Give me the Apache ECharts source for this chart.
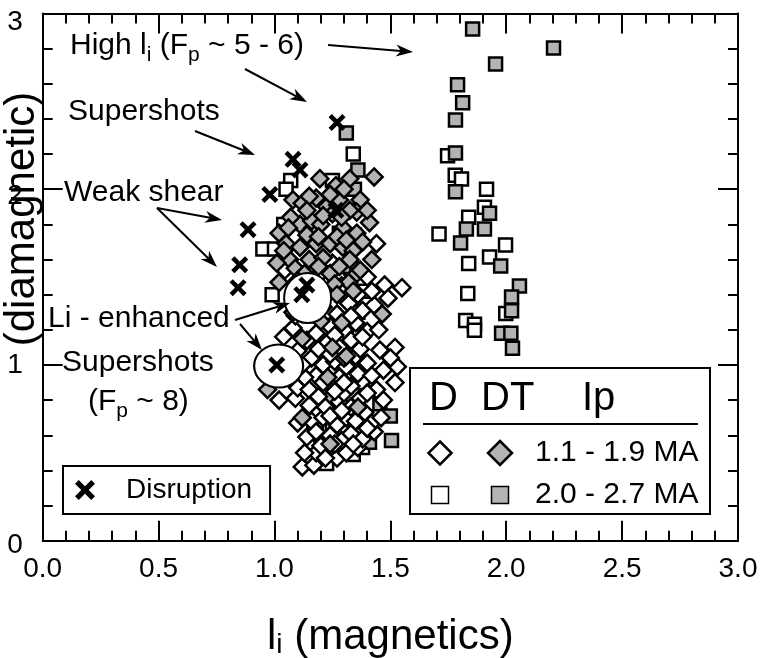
<!DOCTYPE html>
<html><head><meta charset="utf-8">
<script src="https://cdn.jsdelivr.net/npm/echarts@6/dist/echarts.min.js"></script>
<style>html,body{margin:0;padding:0;background:#fff}#c{width:761px;height:658px}</style>
</head><body><div id="c"></div>
<script>
// ---------- data (x = li magnetics, y = li diamagnetic) ----------
const xTickLabels = ['0.0','0.5','1.0','1.5','2.0','2.5','3.0'];
const yTickLabels = ['0','1','2','3'];

// D, Ip 1.1 - 1.9 MA (open diamonds)
const dLowIp = [
[1.12,0.42],[1.17,0.43],[1.18,0.50],[1.27,0.47],[1.31,0.50],[1.36,0.53],[1.23,0.52],
[1.14,0.59],[1.20,0.54],[1.24,0.60],[1.29,0.57],[1.33,0.61],[1.38,0.58],[1.43,0.62],
[1.10,0.67],[1.16,0.68],[1.21,0.70],[1.27,0.66],[1.31,0.70],[1.35,0.68],[1.42,0.67],[1.39,0.73],
[1.15,0.77],[1.22,0.76],[1.02,0.80],[1.09,0.81],[1.28,0.79],[1.33,0.76],[1.37,0.81],[1.47,0.80],[1.30,0.84],
[1.10,0.87],[1.15,0.86],[1.18,0.94],[1.24,0.90],[1.28,0.93],[1.33,0.88],[1.36,0.95],[1.44,0.86],[1.52,0.90],[1.06,0.93],
[1.16,1.04],[1.21,1.00],[1.26,1.02],[1.31,0.99],[1.35,1.05],[1.40,1.01],[1.47,0.97],[1.53,0.99],[1.08,1.01],
[1.14,1.14],[1.19,1.09],[1.23,1.13],[1.28,1.10],[1.33,1.14],[1.37,1.09],[1.455,1.085],[1.52,1.10],[1.10,1.08],
[1.08,1.21],[1.18,1.18],[1.24,1.22],[1.30,1.20],[1.35,1.24],[1.40,1.19],[1.04,1.16],
[1.15,1.30],[1.21,1.33],[1.27,1.29],[1.32,1.35],[1.38,1.31],[1.43,1.34],[1.09,1.28],
[1.22,1.42],[1.29,1.45],[1.475,1.455],[1.55,1.44],[1.045,1.54],[1.36,1.40],[1.44,1.69],[1.25,1.58],[1.19,1.51],[1.40,1.50],
[1.13,0.50],[1.22,0.47],[1.26,0.55],[1.34,0.55],[1.40,0.64],[1.46,0.70],[1.18,0.62],[1.24,0.71],[1.29,0.74],
[1.19,0.82],[1.26,0.85],[1.40,0.84],[1.13,0.93],[1.21,0.90],[1.30,0.90],[1.42,0.94],[1.50,1.04],[1.12,1.00],
[1.24,1.06],[1.30,1.04],[1.38,1.16],[1.45,1.20],[1.26,1.17],[1.33,1.28],[1.42,1.42],[1.49,1.38]
];
// DT, Ip 1.1 - 1.9 MA (grey diamonds)
const dtLowIp = [
[1.43,2.07],[1.196,2.06],[1.325,2.06],[1.265,2.02],[1.37,1.94],[1.355,1.87],[1.41,1.81],[1.08,1.94],
[1.12,1.92],[1.18,1.95],[1.225,1.90],[1.28,1.94],[1.25,1.86],[1.325,1.88],[1.11,1.80],[1.165,1.78],
[1.295,1.78],[1.355,1.75],[1.05,1.69],[1.11,1.67],[1.18,1.69],[1.24,1.69],[1.295,1.67],[1.34,1.65],
[1.065,1.60],[1.15,1.60],[1.21,1.61],[1.325,1.60],[1.355,1.52],[1.02,1.47],[1.32,1.47],[1.07,1.84],
[1.16,1.82],[1.20,1.80],[1.37,1.54],[1.01,1.58],
[1.02,1.75],[1.06,1.78],[1.14,1.74],[1.19,1.73],[1.27,1.73],[1.31,1.71],[1.38,1.70],[1.09,1.55],
[1.13,1.52],[1.19,1.56],[1.24,1.52],[1.28,1.56],[1.04,1.65],[1.15,1.96],[1.24,1.97],[1.30,2.00],
[1.21,1.85],[1.14,1.88],[1.29,1.84],[1.40,1.88],[1.42,1.60],[1.10,1.48],[1.26,1.46],[1.34,1.42],
[0.97,0.86],[1.12,1.15],[1.25,1.10],[1.23,0.93],[1.12,0.70],[1.24,0.55],[1.465,1.29],[1.29,1.24],
[1.08,1.30],[1.20,1.25],[1.31,1.05],[1.36,0.76],[1.27,1.40],[1.18,1.38]
];
// D, Ip 2.0 - 2.7 MA (open squares)
const dHighIp = [
[1.34,2.20],[1.07,2.05],[1.25,2.05],[1.05,2.00],[1.04,1.80],[0.95,1.66],[1.00,1.66],[0.99,1.40],
[1.37,1.90],[1.345,1.74],[1.36,1.02],[1.38,0.90],[1.34,0.49],[1.38,0.53],[1.225,0.44],[1.25,0.65],
[1.20,0.53],[1.18,0.65],[1.33,1.55],[1.36,1.30],[1.31,1.15],[1.38,1.42],[1.35,0.72],[1.30,0.62],[1.28,1.75],
[1.78,2.08],[1.807,2.058],[1.915,2.00],[1.906,1.898],[1.838,1.841],[1.71,1.745],[1.997,1.682],[1.928,1.615],
[1.838,1.578],[1.834,1.407],[1.825,1.253],[1.863,1.232],[1.998,1.293],[1.863,1.198],[1.747,2.19]
];
// DT, Ip 2.0 - 2.7 MA (grey squares)
const dtHighIp = [
[1.31,2.32],[1.36,2.11],[1.345,2.00],[1.30,1.56],[1.25,0.81],[1.17,0.61],[1.455,0.78],[1.50,0.71],
[1.505,0.57],[1.41,0.56],[1.29,1.40],
[1.855,2.912],[2.204,2.803],[1.954,2.713],[1.79,2.594],[1.812,2.492],[1.781,2.394],[1.781,2.206],
[1.781,1.985],[1.928,1.864],[1.906,1.773],[1.828,1.773],[1.803,1.694],[1.976,1.563],[2.057,1.449],
[2.023,1.387],[2.023,1.308],[2.027,1.095],[1.98,1.18],[2.02,1.18]
];
// Disruptions (X)
const disruptions = [
[1.27,2.38],[1.08,2.17],[1.11,2.11],[0.98,1.97],[0.886,1.77],[0.85,1.57],[0.843,1.44],
[1.14,1.455],[1.118,1.40],[1.01,1.00],[1.265,1.88]
];
// Highlight circles (li-enhanced supershots)
const circleCenters = [[1.143,1.381],[1.018,0.994]];

// ---------- styling ----------
const FONT = '"Liberation Sans", Arial, Helvetica, sans-serif';
const XPATH = 'path://M0,3 L3,0 L8,5 L13,0 L16,3 L11,8 L16,13 L13,16 L8,11 L3,16 L0,13 L5,8 Z';
const GREY = '#b3b3b3';
const yLabelShift = [5, 0, 7, 9]; // per-label downward offset (px), styling only

function arrow(x1, y1, x2, y2) {
  const dx = x2 - x1, dy = y2 - y1, L = Math.hypot(dx, dy);
  const ux = dx / L, uy = dy / L, px = -uy, py = ux;
  const hl = 17, hw = 6, notch = 12;
  const bx = x2 - ux * hl, by = y2 - uy * hl;
  const nx = x2 - ux * notch, ny = y2 - uy * notch;
  return [
    {type: 'line', z: 100, shape: {x1: x1, y1: y1, x2: nx, y2: ny}, style: {stroke: '#000', lineWidth: 2}},
    {type: 'polygon', z: 100, shape: {points: [[x2, y2], [bx + px * hw, by + py * hw], [nx, ny], [bx - px * hw, by - py * hw]]}, style: {fill: '#000'}}
  ];
}
const richBase = (size, sub, pad) => ({
  m: {fontSize: size, fontFamily: FONT, fill: '#000', color: '#000'},
  s: {fontSize: sub, fontFamily: FONT, fill: '#000', color: '#000', padding: [pad, 0, 0, 0]}
});
function label(x, y, text, rich) {
  return {type: 'text', z: 100, x: x, y: y,
    style: {text: text, rich: rich, fill: '#000', fontSize: 30, fontFamily: FONT, align: 'left', verticalAlign: 'middle'}};
}

const axisCommon = {
  type: 'value', min: 0, max: 3,
  splitLine: {show: false}, minorSplitLine: {show: false},
  axisLine: {show: true, onZero: false, lineStyle: {color: '#000', width: 2}},
  axisTick: {show: true, inside: true, length: 20, lineStyle: {color: '#000', width: 2}},
  minorTick: {show: true, splitNumber: 5, length: 10, lineStyle: {color: '#000', width: 2}}
};

const yRich = {};
yLabelShift.forEach((s, i) => { yRich['y' + i] = {fontSize: 28, fontFamily: FONT, color: '#000', padding: [s * 2, 0, 0, 0]}; });

const graphic = [
  {type: 'text', z: 100, x: 22, y: 219, rotation: Math.PI / 2,
   style: {text: '(diamagnetic)', fontSize: 42, fontFamily: FONT, fill: '#000', align: 'center', verticalAlign: 'middle'}},
  label(70, 46, '{m|High l}{s|i}{m| (F}{s|p}{m| ~ 5 - 6)}', richBase(30, 21, 18)),
  label(68, 112, 'Supershots'),
  label(64, 193, 'Weak shear'),
  label(48, 319, 'Li - enhanced'),
  label(62, 363, 'Supershots'),
  label(88, 402, '{m|(F}{s|p}{m| ~ 8)}', richBase(30, 21, 18)),
  ...arrow(328, 45, 413, 52),
  ...arrow(245, 69, 307, 102),
  ...arrow(195, 131, 255, 155),
  ...arrow(157, 208, 222, 220),
  ...arrow(157, 208, 217, 267),
  ...arrow(235, 320, 290, 303),
  ...arrow(240, 324, 262, 350),
  // D / DT / Ip key
  {type: 'rect', z: 100, shape: {x: 410, y: 368, width: 300, height: 146}, style: {fill: '#fff', stroke: '#000', lineWidth: 2}},
  {type: 'text', z: 101, x: 429, y: 399, style: {text: 'D', fontSize: 40, fontFamily: FONT, fill: '#000', verticalAlign: 'middle'}},
  {type: 'text', z: 101, x: 481, y: 399, style: {text: 'DT', fontSize: 40, fontFamily: FONT, fill: '#000', verticalAlign: 'middle'}},
  {type: 'text', z: 101, x: 582, y: 399, style: {text: 'Ip', fontSize: 40, fontFamily: FONT, fill: '#000', verticalAlign: 'middle'}},
  {type: 'line', z: 101, shape: {x1: 423, y1: 424, x2: 698, y2: 424}, style: {stroke: '#000', lineWidth: 2}},
  {type: 'polygon', z: 101, shape: {points: [[440, 441.5], [451.5, 453], [440, 464.5], [428.5, 453]]}, style: {fill: '#fff', stroke: '#000', lineWidth: 2.5}},
  {type: 'polygon', z: 101, shape: {points: [[500, 441], [512, 453], [500, 465], [488, 453]]}, style: {fill: GREY, stroke: '#000', lineWidth: 2.5}},
  {type: 'text', z: 101, x: 535, y: 453, style: {text: '1.1 - 1.9 MA', fontSize: 30, fontFamily: FONT, fill: '#000', verticalAlign: 'middle'}},
  {type: 'rect', z: 101, shape: {x: 431.5, y: 486.5, width: 17, height: 17}, style: {fill: '#fff', stroke: '#000', lineWidth: 1.5}},
  {type: 'rect', z: 101, shape: {x: 491.5, y: 486.5, width: 17, height: 17}, style: {fill: GREY, stroke: '#000', lineWidth: 1.5}},
  {type: 'text', z: 101, x: 535, y: 495, style: {text: '2.0 - 2.7 MA', fontSize: 30, fontFamily: FONT, fill: '#000', verticalAlign: 'middle'}}
];

const markerBase = (symbol, size, fill, z) => ({
  type: 'scatter', symbol: symbol, symbolSize: size, z: z, silent: true,
  itemStyle: {color: fill, borderColor: '#000', borderWidth: 2.5, opacity: 1},
  emphasis: {disabled: true}, animation: false
});

const option = {
  animation: false,
  backgroundColor: '#fff',
  textStyle: {fontFamily: FONT, color: '#000'},
  grid: {left: 42.7, right: 23, top: 13.5, bottom: 117.3, outerBoundsMode: 'none', containLabel: false},
  xAxis: [
    Object.assign({}, axisCommon, {
      position: 'bottom', interval: 0.5,
      axisLabel: {show: true, fontSize: 28, color: '#000', margin: 15, fontFamily: FONT,
        formatter: v => xTickLabels[Math.round(v / 0.5)]},
      name: '{m|l}{s|i}{m| (magnetics)}', nameLocation: 'middle', nameGap: 75,
      nameTextStyle: {rich: richBase(42, 28, 16)}
    }),
    Object.assign({}, axisCommon, {position: 'top', interval: 0.5, axisLabel: {show: false}})
  ],
  yAxis: [
    Object.assign({}, axisCommon, {
      position: 'left', interval: 1,
      axisLabel: {show: true, fontSize: 28, color: '#000', margin: 20, fontFamily: FONT,
        verticalAlign: 'middle', verticalAlignMinLabel: 'middle', verticalAlignMaxLabel: 'middle',
        rich: yRich,
        formatter: v => { const i = Math.round(v); return '{y' + i + '|' + yTickLabels[i] + '}'; }}
    }),
    Object.assign({}, axisCommon, {position: 'right', interval: 1, axisLabel: {show: false}})
  ],
  legend: {
    data: ['Disruption'], left: 63, top: 466, selectedMode: false,
    padding: [10, 18, 10, 12], borderColor: '#000', borderWidth: 2, backgroundColor: '#fff',
    itemWidth: 20, itemHeight: 20, icon: XPATH, z: 100,
    textStyle: {fontSize: 28, color: '#000', fontFamily: FONT, padding: [0, 0, 0, 26]}
  },
  graphic: graphic,
  series: [
    Object.assign(markerBase('rect', 13, '#fff', 2), {name: 'D 2.0 - 2.7 MA', data: dHighIp}),
    Object.assign(markerBase('rect', 13, GREY, 3), {name: 'DT 2.0 - 2.7 MA', data: dtHighIp}),
    Object.assign(markerBase('diamond', 17, '#fff', 4), {name: 'D 1.1 - 1.9 MA', data: dLowIp}),
    Object.assign(markerBase('diamond', 17, GREY, 5), {name: 'DT 1.1 - 1.9 MA', data: dtLowIp}),
    {type: 'scatter', name: 'circles', symbol: 'circle', z: 6, silent: true, animation: false,
     symbolSize: (v, p) => p.dataIndex === 0 ? [47, 50] : [49, 43],
     emphasis: {disabled: true},
     itemStyle: {color: '#fff', borderColor: '#000', borderWidth: 2, opacity: 1}, data: circleCenters},
    {type: 'scatter', name: 'Disruption', symbol: XPATH, symbolSize: 17, z: 7, silent: true, animation: false,
     emphasis: {disabled: true},
     itemStyle: {color: '#000', opacity: 1}, data: disruptions}
  ]
};
const chart = echarts.init(document.getElementById('c'), null, {renderer: 'canvas'});
chart.setOption(option);
</script></body></html>
